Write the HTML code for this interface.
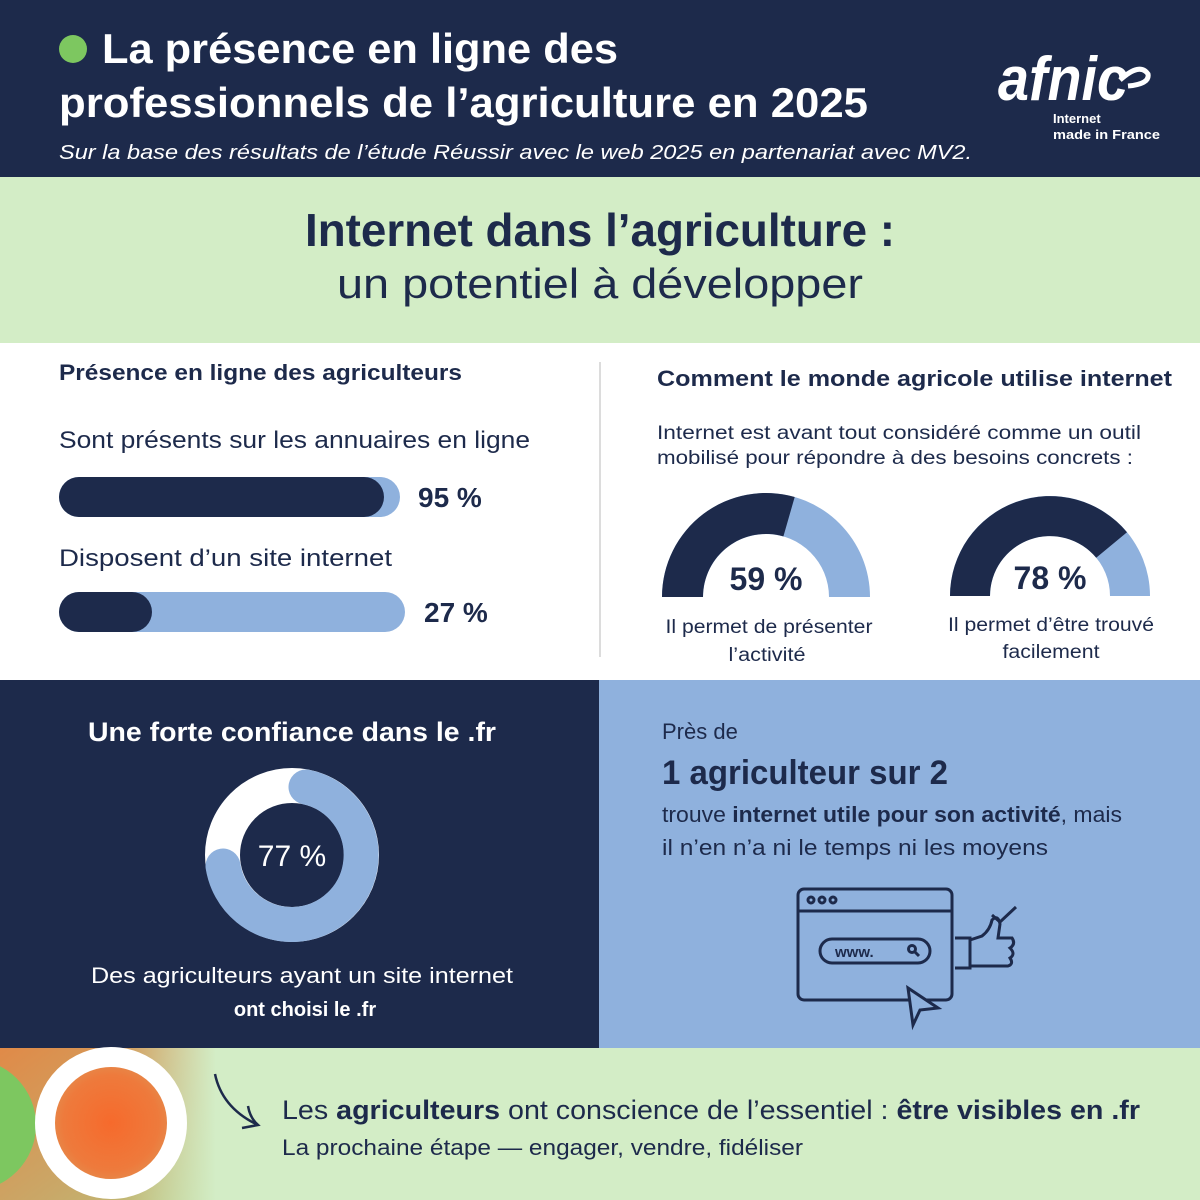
<!DOCTYPE html>
<html><head><meta charset="utf-8"><style>
html,body{margin:0;padding:0;width:1200px;height:1200px;overflow:hidden;background:#fff}
svg{display:block}
text{font-family:"Liberation Sans",sans-serif}
</style></head><body>
<svg width="1200" height="1200" viewBox="0 0 1200 1200" xmlns="http://www.w3.org/2000/svg">
<defs>
<linearGradient id="bg" x1="0" y1="0" x2="1" y2="1">
<stop offset="0" stop-color="#e08a48"/><stop offset="0.6" stop-color="#c9a868"/><stop offset="1" stop-color="#b9c47c"/>
</linearGradient>
<radialGradient id="og" cx="0.5" cy="0.5" r="0.6">
<stop offset="0" stop-color="#f66a2c"/><stop offset="0.6" stop-color="#ee7a3c"/><stop offset="1" stop-color="#d9a060"/>
</radialGradient>
<linearGradient id="fade" x1="0" y1="0" x2="1" y2="0">
<stop offset="0" stop-color="#d3edc6" stop-opacity="0"/><stop offset="1" stop-color="#d3edc6" stop-opacity="1"/>
</linearGradient>
</defs>
<!-- header -->
<rect x="0" y="0" width="1200" height="177" fill="#1d2a4b"/>
<circle cx="73" cy="49" r="14" fill="#7dc760"/>
<text x="102" y="63" font-size="42" font-weight="bold" fill="#fff" textLength="516" lengthAdjust="spacingAndGlyphs">La présence en ligne des</text>
<text x="59" y="117" font-size="42" font-weight="bold" fill="#fff" textLength="809" lengthAdjust="spacingAndGlyphs">professionnels de l’agriculture en 2025</text>
<text x="59" y="159" font-size="20" font-style="italic" fill="#fff" textLength="913" lengthAdjust="spacingAndGlyphs">Sur la base des résultats de l’étude Réussir avec le web 2025 en partenariat avec MV2.</text>
<text x="998" y="100" font-size="62" font-style="italic" font-weight="bold" fill="#fff" font-family="Liberation Serif,serif" textLength="130" lengthAdjust="spacingAndGlyphs">afnic</text>
<path d="M1120 80 Q1140 62 1148 74 Q1150 84 1128 86" stroke="#fff" stroke-width="5" fill="none"/>
<text x="1053" y="123" font-size="13" font-weight="bold" fill="#fff">Internet</text>
<text x="1053" y="139" font-size="13" font-weight="bold" fill="#fff" textLength="107" lengthAdjust="spacingAndGlyphs">made in France</text>
<!-- green band -->
<rect x="0" y="177" width="1200" height="166" fill="#d3edc6"/>
<text x="600" y="246" font-size="46" font-weight="bold" fill="#1d2a4b" text-anchor="middle" textLength="590" lengthAdjust="spacingAndGlyphs">Internet dans l’agriculture :</text>
<text x="600" y="298" font-size="42" fill="#1d2a4b" text-anchor="middle" textLength="526" lengthAdjust="spacingAndGlyphs">un potentiel à développer</text>
<!-- white section -->
<line x1="600" y1="362" x2="600" y2="657" stroke="#dcdcdc" stroke-width="2"/>
<text x="59" y="380" font-size="22" font-weight="bold" fill="#1d2a4b" textLength="403" lengthAdjust="spacingAndGlyphs">Présence en ligne des agriculteurs</text>
<text x="59" y="448" font-size="24" fill="#1d2a4b" textLength="471" lengthAdjust="spacingAndGlyphs">Sont présents sur les annuaires en ligne</text>
<rect x="59" y="477" width="341" height="40" rx="20" fill="#8fb1dd"/>
<rect x="59" y="477" width="325" height="40" rx="20" fill="#1d2a4b"/>
<text x="418" y="507" font-size="28" font-weight="bold" fill="#1d2a4b">95 %</text>
<text x="59" y="566" font-size="24" fill="#1d2a4b" textLength="333" lengthAdjust="spacingAndGlyphs">Disposent d’un site internet</text>
<rect x="59" y="592" width="346" height="40" rx="20" fill="#8fb1dd"/>
<rect x="59" y="592" width="93" height="40" rx="20" fill="#1d2a4b"/>
<text x="424" y="622" font-size="28" font-weight="bold" fill="#1d2a4b">27 %</text>
<text x="657" y="386" font-size="22" font-weight="bold" fill="#1d2a4b" textLength="515" lengthAdjust="spacingAndGlyphs">Comment le monde agricole utilise internet</text>
<text x="657" y="439" font-size="19" fill="#1d2a4b" textLength="484" lengthAdjust="spacingAndGlyphs">Internet est avant tout considéré comme un outil</text>
<text x="657" y="464" font-size="19" fill="#1d2a4b" textLength="476" lengthAdjust="spacingAndGlyphs">mobilisé pour répondre à des besoins concrets :</text>
<!-- gauge 1 -->
<path d="M662 597 A104 104 0 0 1 870 597 L829 597 A63 63 0 0 0 703 597 Z" fill="#8fb1dd"/>
<path d="M662 597 A104 104 0 0 1 794.7 497 L783.4 536.4 A63 63 0 0 0 703 597 Z" fill="#1d2a4b"/>
<text x="766" y="590" font-size="32" font-weight="bold" fill="#1d2a4b" text-anchor="middle">59 %</text>
<text x="769" y="633" font-size="19" fill="#1d2a4b" text-anchor="middle" textLength="207" lengthAdjust="spacingAndGlyphs">Il permet de présenter</text>
<text x="767" y="661" font-size="19" fill="#1d2a4b" text-anchor="middle" textLength="77" lengthAdjust="spacingAndGlyphs">l’activité</text>
<!-- gauge 2 -->
<path d="M950 596 A100 100 0 0 1 1150 596 L1110 596 A60 60 0 0 0 990 596 Z" fill="#8fb1dd"/>
<path d="M950 596 A100 100 0 0 1 1127 532.3 L1096.2 557.8 A60 60 0 0 0 990 596 Z" fill="#1d2a4b"/>
<text x="1050" y="589" font-size="32" font-weight="bold" fill="#1d2a4b" text-anchor="middle">78 %</text>
<text x="1051" y="631" font-size="19" fill="#1d2a4b" text-anchor="middle" textLength="206" lengthAdjust="spacingAndGlyphs">Il permet d’être trouvé</text>
<text x="1051" y="658" font-size="19" fill="#1d2a4b" text-anchor="middle" textLength="97" lengthAdjust="spacingAndGlyphs">facilement</text>
<!-- dark left -->
<rect x="0" y="680" width="599" height="368" fill="#1d2a4b"/>
<text x="292" y="741" font-size="27" font-weight="bold" fill="#fff" text-anchor="middle" textLength="408" lengthAdjust="spacingAndGlyphs">Une forte confiance dans le .fr</text>
<circle cx="292" cy="855" r="69.5" fill="none" stroke="#fff" stroke-width="35"/>
<path d="M306 787 A69.5 69.5 0 1 1 223 866" fill="none" stroke="#8fb1dd" stroke-width="35" stroke-linecap="round"/>
<text x="292" y="866" font-size="30" fill="#fff" text-anchor="middle">77 %</text>
<text x="302" y="983" font-size="22" fill="#fff" text-anchor="middle" textLength="422" lengthAdjust="spacingAndGlyphs">Des agriculteurs ayant un site internet</text>
<text x="305" y="1016" font-size="20" font-weight="bold" fill="#fff" text-anchor="middle">ont choisi le .fr</text>
<!-- blue right -->
<rect x="599" y="680" width="601" height="368" fill="#8fb1dd"/>
<text x="662" y="739" font-size="22" fill="#1d2a4b">Près de</text>
<text x="662" y="784" font-size="34" font-weight="bold" fill="#1d2a4b" textLength="286" lengthAdjust="spacingAndGlyphs">1 agriculteur sur 2</text>
<text x="662" y="822" font-size="22" fill="#1d2a4b" textLength="460" lengthAdjust="spacingAndGlyphs">trouve <tspan font-weight="bold">internet utile pour son activité</tspan>, mais</text>
<text x="662" y="855" font-size="22" fill="#1d2a4b" textLength="386" lengthAdjust="spacingAndGlyphs">il n’en n’a ni le temps ni les moyens</text>
<g stroke="#1d2a4b" stroke-width="3" fill="none">
<rect x="798" y="889" width="154" height="111" rx="6"/>
<line x1="798" y1="911" x2="952" y2="911"/>
<circle cx="811" cy="900" r="3"/><circle cx="822" cy="900" r="3"/><circle cx="833" cy="900" r="3"/>
<rect x="820" y="939" width="110" height="24" rx="12"/>
<circle cx="912" cy="949" r="3.5"/><line x1="915" y1="952" x2="919" y2="956"/>
<path d="M908 988 L913 1025 L920 1010 L938 1008 Z" fill="#8fb1dd"/>
<path d="M955 938 H970 V968 H955"/>
<path d="M970 940 L982 936 Q990 930 992 920 Q998 914 1000 924 L998 938 H1012 Q1016 944 1010 948 Q1016 954 1010 958 Q1014 964 1008 966 L970 966"/>
<path d="M992 915 L1000 922 L1016 907"/>
</g>
<text x="835" y="957" font-size="15" font-weight="bold" fill="#1d2a4b">www.</text>
<!-- bottom -->
<rect x="0" y="1048" width="1200" height="152" fill="#d3edc6"/>
<rect x="0" y="1048" width="215" height="152" fill="url(#bg)"/>
<rect x="120" y="1048" width="96" height="152" fill="url(#fade)"/>
<circle cx="-30" cy="1125" r="66" fill="#7dc760"/>
<circle cx="111" cy="1123" r="66" fill="url(#og)" stroke="#fff" stroke-width="20"/>
<path d="M215 1074 Q222 1108 258 1125" stroke="#1d2a4b" stroke-width="2.5" fill="none"/>
<path d="M248 1106 Q250 1118 258 1125 L242 1128" stroke="#1d2a4b" stroke-width="2.5" fill="none"/>
<text x="282" y="1119" font-size="27" fill="#1d2a4b" textLength="858" lengthAdjust="spacingAndGlyphs">Les <tspan font-weight="bold">agriculteurs</tspan> ont conscience de l’essentiel : <tspan font-weight="bold">être visibles en .fr</tspan></text>
<text x="282" y="1155" font-size="22" fill="#1d2a4b" textLength="521" lengthAdjust="spacingAndGlyphs">La prochaine étape — engager, vendre, fidéliser</text>
</svg>
</body></html>
